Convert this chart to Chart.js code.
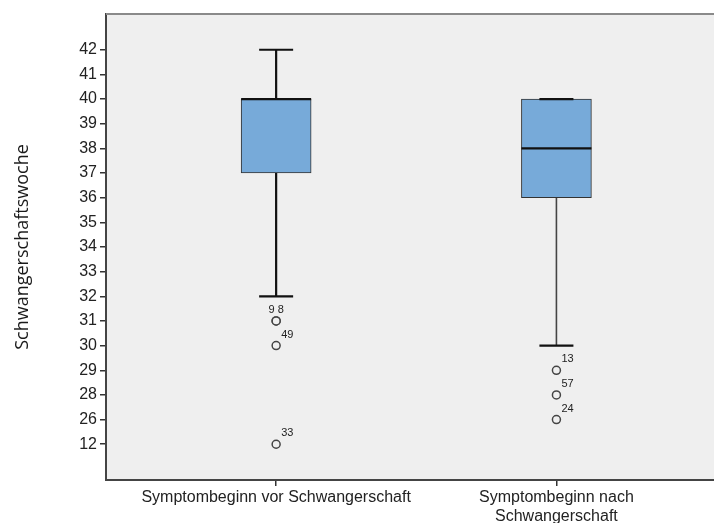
<!DOCTYPE html>
<html>
<head>
<meta charset="utf-8">
<script src="https://cdn.jsdelivr.net/npm/chart.js@4.4.1/dist/chart.umd.min.js"></script>
<style>
  html, body { margin: 0; padding: 0; background: #fff; overflow: hidden; }
  canvas { display: block; }
</style>
</head>
<body>
<canvas id="boxChart" width="720" height="523"></canvas>
<script>
// Gruppen (x-Achse)
var groups = ['Symptombeginn vor Schwangerschaft', ['Symptombeginn nach', 'Schwangerschaft']];
// Beschriftete Wochen auf der y-Achse (gleichabständig, wie im SPSS-Plot)
var weekTicks = [12, 26, 28, 29, 30, 31, 32, 33, 34, 35, 36, 37, 38, 39, 40, 41, 42];

// Boxplot-Kennwerte je Gruppe
var q1 = [37, 36];
var median = [40, 38];
var q3 = [40, 40];
var whiskerLow = [32, 30];
var whiskerHigh = [42, 40];

// Ausreisser (Wert + Fallnummer)
var outlierValues = [[31, 31, 30, 12], [29, 28, 26]];
var outlierIds = [[9, 8, 49, 33], [13, 57, 24]];

function pos(v) { return weekTicks.indexOf(v); }

var boxData = groups.map(function (g, i) {
    return { x: i + 1, y: [pos(q1[i]), pos(q3[i])] };
});
var outlierData = [];
outlierValues.forEach(function (vals, i) {
    vals.forEach(function (v) { outlierData.push({ x: i + 1, y: pos(v) }); });
});

var boxPlugin = {
    id: 'boxParts',
    beforeDraw: function (chart) {
        var a = chart.chartArea, ctx = chart.ctx;
        ctx.save();
        ctx.fillStyle = '#efefef';
        ctx.fillRect(a.left, a.top, a.right - a.left, a.bottom - a.top);
        ctx.restore();
    },
    beforeDatasetsDraw: function (chart) {
        var ctx = chart.ctx, xs = chart.scales.x, ys = chart.scales.y;
        var styles = [{ c: '#111', w: 2.2 }, { c: '#444', w: 1.6 }];
        ctx.save();
        groups.forEach(function (g, i) {
            var x = xs.getPixelForValue(i + 1);
            ctx.strokeStyle = styles[i].c;
            ctx.lineWidth = styles[i].w;
            ctx.beginPath();
            ctx.moveTo(x, ys.getPixelForValue(pos(q3[i])));
            ctx.lineTo(x, ys.getPixelForValue(pos(whiskerHigh[i])));
            ctx.moveTo(x, ys.getPixelForValue(pos(q1[i])));
            ctx.lineTo(x, ys.getPixelForValue(pos(whiskerLow[i])));
            ctx.stroke();
        });
        ctx.restore();
    },
    afterDatasetsDraw: function (chart) {
        var ctx = chart.ctx, xs = chart.scales.x, ys = chart.scales.y;
        ctx.save();
        groups.forEach(function (g, i) {
            var x = xs.getPixelForValue(i + 1);
            // Whisker-Enden
            ctx.strokeStyle = '#111';
            ctx.lineWidth = 2.2;
            ctx.beginPath();
            [whiskerHigh[i], whiskerLow[i]].forEach(function (v) {
                var y = ys.getPixelForValue(pos(v));
                ctx.moveTo(x - 17, y);
                ctx.lineTo(x + 17, y);
            });
            ctx.stroke();
            // Median
            var ym = ys.getPixelForValue(pos(median[i]));
            ctx.lineWidth = 2.2;
            ctx.beginPath();
            ctx.moveTo(x - 35, ym);
            ctx.lineTo(x + 35, ym);
            ctx.stroke();
            // Fallnummern der Ausreisser
            ctx.fillStyle = '#222';
            ctx.font = '11px "Liberation Sans", Arial, sans-serif';
            ctx.textBaseline = 'alphabetic';
            var seen = {};
            outlierValues[i].forEach(function (v, k) {
                if (seen[v]) return;
                var same = [];
                outlierValues[i].forEach(function (w, j) { if (w === v) same.push(outlierIds[i][j]); });
                seen[v] = true;
                var y = ys.getPixelForValue(pos(v));
                if (same.length > 1) {
                    ctx.textAlign = 'center';
                    ctx.fillText(same.join(' '), x, y - 8);
                } else {
                    ctx.textAlign = 'left';
                    ctx.fillText(String(same[0]), x + 5, y - 8);
                }
            });
        });
        ctx.restore();
    },
    afterDraw: function (chart) {
        var a = chart.chartArea, ctx = chart.ctx;
        ctx.save();
        ctx.strokeStyle = '#8a8a8a';
        ctx.lineWidth = 2;
        ctx.beginPath();
        ctx.moveTo(a.left, a.top);
        ctx.lineTo(a.right, a.top);
        ctx.stroke();
        ctx.restore();
    }
};

var ctx = document.getElementById('boxChart').getContext('2d');
var boxChart = new Chart(ctx, {
    type: 'bar',
    data: {
        datasets: [{
            type: 'bar',
            data: boxData,
            backgroundColor: '#77aad9',
            borderColor: '#333',
            borderWidth: 1,
            borderSkipped: false,
            barThickness: 70
        }, {
            type: 'scatter',
            data: outlierData,
            pointStyle: 'circle',
            pointRadius: 4,
            pointBorderWidth: 1.5,
            pointBorderColor: '#444',
            pointBackgroundColor: '#efefef'
        }]
    },
    options: {
        responsive: false,
        animation: false,
        layout: { padding: { top: 14, right: 0, left: 0, bottom: 0 } },
        plugins: {
            legend: { display: false },
            tooltip: { enabled: false }
        },
        scales: {
            x: {
                type: 'linear',
                position: 'bottom',
                offset: false,
                min: 0.393,
                max: 2.564,
                afterBuildTicks: function (axis) { axis.ticks = [{ value: 1 }, { value: 2 }]; },
                afterFit: function (axis) { axis.height = 43; },
                grid: { drawOnChartArea: false, drawTicks: true, tickLength: 6, color: '#333', lineWidth: 1.5, offset: false },
                border: { display: true, color: '#444', width: 2 },
                ticks: {
                    maxRotation: 0,
                    autoSkip: false,
                    padding: 2,
                    color: '#222',
                    font: { family: '"Liberation Sans", Arial, sans-serif', size: 16 },
                    callback: function (v) { return groups[v - 1]; }
                }
            },
            y: {
                type: 'linear',
                min: -1.45,
                max: 17.45,
                afterBuildTicks: function (axis) {
                    axis.ticks = weekTicks.map(function (w, i) { return { value: i }; });
                },
                afterFit: function (axis) { axis.width = 106; },
                grid: { drawOnChartArea: false, drawTicks: true, tickLength: 6, color: '#333', lineWidth: 1.5 },
                border: { display: true, color: '#444', width: 2 },
                ticks: {
                    padding: 3,
                    color: '#222',
                    font: { family: '"Liberation Sans", Arial, sans-serif', size: 16 },
                    callback: function (v) { return String(weekTicks[v]); }
                },
                title: {
                    display: true,
                    text: 'Schwangerschaftswoche',
                    color: '#1a1a1a',
                    padding: { top: 12, bottom: 0 },
                    font: { family: '"Open Sans", sans-serif', size: 18 }
                }
            }
        }
    },
    plugins: [boxPlugin]
});
</script>
</body>
</html>
